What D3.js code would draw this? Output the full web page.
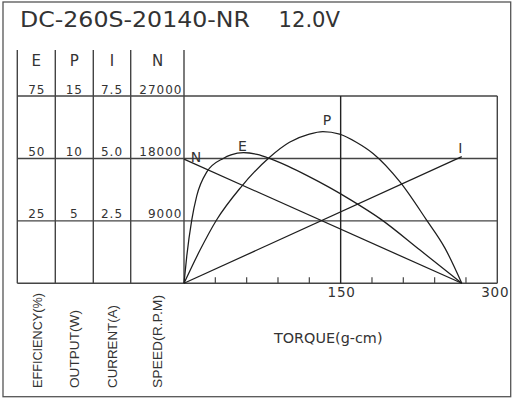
<!DOCTYPE html>
<html><head><meta charset="utf-8">
<script src="https://cdn.jsdelivr.net/npm/d3@7"></script>
<style>html,body{margin:0;padding:0;background:#fff;}svg{display:block;}</style>
</head><body>
<script>
// ---- data ----
const title = "DC-260S-20140-NR";
const voltage = "12.0V";
const headers = ["E", "P", "I", "N"];
const effTicks = ["25", "50", "75"];
const outTicks = ["5", "10", "15"];
const curTicks = ["2.5", "5.0", "7.5"];
const spdTicks = [9000, 18000, 27000];
const axisNames = ["EFFICIENCY(%)", "OUTPUT(W)", "CURRENT(A)", "SPEED(R.P.M)"];
const torqueLabels = [150, 300];
const torqueMinor = [30, 60, 90, 120, 180, 210, 240, 270];
const torqueName = "TORQUE(g-cm)";
// torque (g-cm), efficiency (%)
const effData = [[0,0],[2.6,10.7],[7.4,25.3],[12.2,35],[21.7,44.5],[37.6,50],[45,51.4],[57,52.3],[70,51.6],[82,50],[100,46.8],[117.5,43.2],[140,38.2],[160,33.3],[188,25.8],[226,13.3],[266,0]];
// torque (g-cm), output (W)
const outData = [[0,0],[15,2.6],[31,5.05],[54,7.65],[82,10.1],[101,11.3],[120,11.95],[133,12.15],[149,11.95],[165,11.3],[181,10.4],[207,8.1],[232,5.1],[250,2.8],[266,0]];
// torque (g-cm), current (A)
const curData = [[0,0],[266,5.07]];
// torque (g-cm), speed (rpm)
const spdData = [[0,17900],[266,0]];

// ---- layout ----
const W = 516, H = 400;
const plotL = 184, plotR = 497.3, plotT = 96, plotB = 283.3;
const colX = [17.3, 55.3, 93.3, 130.7, 184];
const tableTop = 50;
const gridCol = "#444", curveCol = "#1e1e1e", txtCol = "#333";
const font = "'DejaVu Sans', 'Liberation Sans', Arial, sans-serif";
const font2 = "'Liberation Sans', Arial, sans-serif";

const svg = d3.select("body").append("svg").attr("width", W).attr("height", H);

const x = d3.scaleLinear().domain([0, 300]).range([plotL, plotR]);
const yE = d3.scaleLinear().domain([0, 75]).range([plotB, plotT]);
const yP = d3.scaleLinear().domain([0, 15]).range([plotB, plotT]);
const yI = d3.scaleLinear().domain([0, 7.5]).range([plotB, plotT]);
const yN = d3.scaleLinear().domain([0, 27000]).range([plotB, plotT]);

// outer border
svg.append("rect").attr("x", 3).attr("y", 2).attr("width", 507.7).attr("height", 394.7)
  .attr("fill", "none").attr("stroke", "#555").attr("stroke-width", 1.3);

// title
svg.append("text").attr("x", 20).attr("y", 27).text(title)
  .attr("font-family", font).attr("font-size", 20.5).attr("fill", txtCol)
  .attr("textLength", 230).attr("lengthAdjust", "spacingAndGlyphs");
svg.append("text").attr("x", 278.5).attr("y", 27).text(voltage)
  .attr("font-family", font).attr("font-size", 20.5).attr("fill", txtCol)
  .attr("textLength", 61.5).attr("lengthAdjust", "spacingAndGlyphs");

const g = svg.append("g").attr("stroke", gridCol).attr("stroke-width", 1.4).attr("fill", "none");

// table verticals
colX.forEach(cx => g.append("line").attr("x1", cx).attr("x2", cx).attr("y1", tableTop).attr("y2", plotB));
// horizontal rows
[0].concat(spdTicks).forEach(v => g.append("line").attr("x1", colX[0]).attr("x2", plotR)
  .attr("y1", yN(v)).attr("y2", yN(v)));
// plot right border
g.append("line").attr("x1", plotR).attr("x2", plotR).attr("y1", plotT).attr("y2", plotB);
// 150 line
g.append("line").attr("x1", x(150)).attr("x2", x(150)).attr("y1", plotT).attr("y2", plotB)
  .attr("stroke", "#222");
// minor ticks
torqueMinor.forEach(t => g.append("line").attr("x1", x(t)).attr("x2", x(t))
  .attr("y1", plotB).attr("y2", plotB - 6).attr("stroke-width", 1.2));

// column centers
const cc = [0,1,2].map(i => (colX[i] + colX[i+1]) / 2);

// headers
headers.forEach((h, i) => {
  const cx = i < 3 ? cc[i] : 157.5;
  svg.append("text").attr("x", cx).attr("y", 66).text(h)
    .attr("text-anchor", "middle").attr("font-family", font).attr("font-size", 15)
    .attr("fill", txtCol);
});

// tick labels
function tickCol(labels, cx, scale, vals, anchor) {
  labels.forEach((lab, i) => {
    svg.append("text").attr("x", cx).attr("y", scale(vals[i]) - 2.5).text(lab)
      .attr("text-anchor", anchor).attr("font-family", font).attr("font-size", 12)
      .attr("letter-spacing", 1).attr("fill", txtCol);
  });
}
tickCol(effTicks, cc[0] + 0.5, yE, effTicks.map(Number), "middle");
tickCol(outTicks, cc[1], yP, outTicks.map(Number), "middle");
tickCol(curTicks, cc[2], yI, curTicks.map(Number), "middle");
tickCol(spdTicks.map(String), 182.5, yN, spdTicks, "end");

// vertical axis names
const nameLen = [95, 78, 83, 93];
const nameBase = [41.7, 79.3, 116.8, 162];
axisNames.forEach((nm, i) => {
  svg.append("text").attr("transform", `translate(${nameBase[i]},388) rotate(-90)`)
    .text(nm).attr("font-family", font2).attr("font-size", 13).attr("fill", txtCol)
    .attr("textLength", nameLen[i]).attr("lengthAdjust", "spacingAndGlyphs");
});

// torque labels
torqueLabels.forEach(t => {
  svg.append("text").attr("x", t === 300 ? x(t) - 2 : x(t) + 1).attr("y", 296.7).text(t)
    .attr("text-anchor", "middle").attr("font-family", font).attr("font-size", 13.5)
    .attr("letter-spacing", 0.8).attr("fill", txtCol);
});
svg.append("text").attr("x", 274).attr("y", 343).text(torqueName)
  .attr("font-family", font).attr("font-size", 13.5).attr("fill", txtCol)
  .attr("textLength", 108.5).attr("lengthAdjust", "spacingAndGlyphs");

// curves
const curves = svg.append("g").attr("fill", "none").attr("stroke", curveCol).attr("stroke-width", 1.25);
function drawCurve(data, ys) {
  curves.append("path").datum(data)
    .attr("d", d3.line().x(d => x(d[0])).y(d => ys(d[1])).curve(d3.curveMonotoneX));
}
drawCurve(spdData, yN);
drawCurve(curData, yI);
drawCurve(outData, yP);
drawCurve(effData, yE);

// curve labels
function curveLabel(txt, px, py) {
  svg.append("text").attr("x", px).attr("y", py).text(txt)
    .attr("text-anchor", "middle").attr("font-family", font).attr("font-size", 14)
    .attr("fill", txtCol);
}
curveLabel("N", x(spdData[0][0]) + 12, yN(spdData[0][1]) + 2.4);
const ePk = effData[7];
curveLabel("E", x(ePk[0]) - 1, yE(ePk[1]) - 1.5);
const pPk = outData[7];
curveLabel("P", x(pPk[0]) + 4, yP(pPk[1]) - 6.7);
const iEnd = curData[1];
curveLabel("I", x(iEnd[0]) - 1.5, yI(iEnd[1]) - 3.6);
</script>
</body></html>
